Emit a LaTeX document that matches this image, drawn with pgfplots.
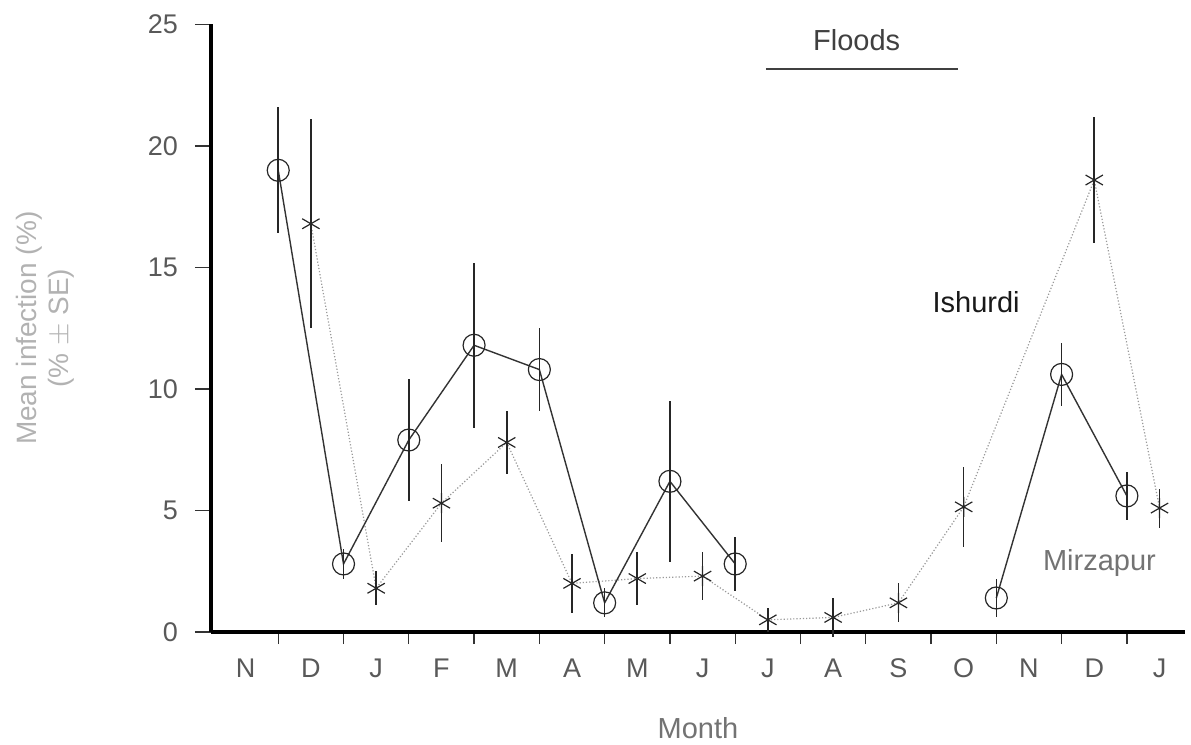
\documentclass[border=0pt]{standalone}
\usepackage{pgfplots}
\usepackage{pgfplotstable}
\pgfplotsset{compat=1.18}
\usepackage{fontspec}
\setmainfont{Liberation Sans}
\pgfplotstableread{
x y e
0.5 19.0 2.6
1.5 2.8 0.6
2.5 7.9 2.5
3.5 11.8 3.4
4.5 10.8 1.7
5.5 1.2 0.6
6.5 6.2 3.3
7.5 2.8 1.1
9.5 nan 0
11.5 1.4 0.8
12.5 10.6 1.3
13.5 5.6 1.0
}\mirzapur
\pgfplotstableread{
x y e
1 16.8 4.3
2 1.8 0.7
3 5.3 1.6
4 7.8 1.3
5 2.0 1.2
6 2.2 1.1
7 2.3 1.0
8 0.5 0.5
9 0.6 0.8
10 1.2 0.8
11 5.15 1.65
13 18.6 2.6
14 5.1 0.8
}\ishurdi
\begin{document}
\begin{tikzpicture}
\path[use as bounding box] (0,0) rectangle (595.5pt,372.5pt);
\begin{axis}[
  at={(105.5pt,56.5pt)}, anchor=south west,
  scale only axis, width=487pt, height=303.75pt,
  xmin=-0.53, xmax=14.39, ymin=0, ymax=25,
  clip=false,
  /pgf/number format/assume math mode=true,
  axis x line*=bottom, axis y line*=left,
  axis line style={line width=1.6pt, -},
  xtick={0,...,14},
  xticklabels={N,D,J,F,M,A,M,J,J,A,S,O,N,D,J},
  major x tick style={draw=none},
  minor xtick={0.5,1.5,...,13.5},
  minor tick length=6pt,
  major tick length=8pt,
  ytick={0,5,10,15,20,25},
  tick align=outside,
  tick style={black!80, line width=0.6pt},
  x tick label style={text=black!65, font=\fontsize{13.5}{16}\selectfont, yshift=-2pt},
  y tick label style={text=black!65, font=\fontsize{13.5}{16}\selectfont, xshift=-5pt},
  every axis x label/.style={at={(axis description cs:0.5,0)}, anchor=center, yshift=-48pt},
  every axis y label/.style={at={(axis description cs:0,0.5)}, rotate=90, anchor=center, yshift=83pt},
  xlabel={Month},
  xlabel style={text=black!55, font=\fontsize{14.5}{17}\selectfont},
  ylabel={\shortstack{Mean infection (\%)\\(\% $\pm$ SE)}},
  ylabel style={text=black!30, font=\fontsize{14}{20}\selectfont},
  unbounded coords=jump,
]
% Ishurdi (dotted, asterisks)
\addplot[black!40, densely dotted, line width=0.6pt, mark=asterisk, mark size=5pt,
  mark options={solid, black!85, line width=0.6pt},
  error bars/.cd, y dir=both, y explicit, error mark=none,
  error bar style={solid, black!85, line width=0.8pt}]
  table[x=x, y=y, y error=e] {\ishurdi};
% Mirzapur (solid, circles)
\addplot[black!80, line width=0.7pt, mark=o, mark size=5.5pt,
  mark options={solid, black!85, line width=0.6pt, fill=white},
  error bars/.cd, y dir=both, y explicit, error mark=none,
  error bar style={black!85, line width=0.8pt}]
  table[x=x, y=y, y error=e] {\mirzapur};
% Floods bar
\addplot[black!75, line width=0.8pt, mark=none] coordinates {(7.97,23.17) (10.91,23.17)};
\node[text=black!75, font=\fontsize{14.5}{17}\selectfont] at (axis cs:9.36,24.36) {Floods};
\node[text=black!90, font=\fontsize{14.5}{17}\selectfont] at (axis cs:11.19,13.58) {Ishurdi};
\node[text=black!55, font=\fontsize{14.5}{17}\selectfont] at (axis cs:13.08,2.84) {Mirzapur};
\end{axis}
\end{tikzpicture}
\end{document}
